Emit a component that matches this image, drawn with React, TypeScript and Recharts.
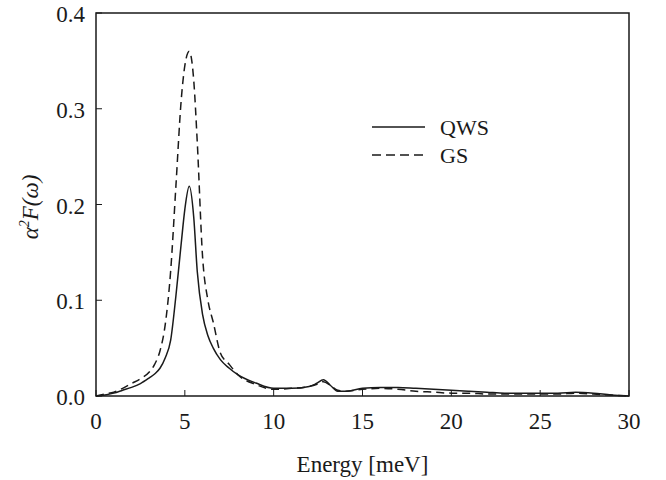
import { LineChart, Line, XAxis, YAxis, ReferenceArea } from 'recharts';

const energy = [0, 0.5, 1, 1.5, 2, 2.5, 3, 3.3, 3.6, 3.9, 4.2, 4.5, 4.8, 5.0, 5.25, 5.5, 5.7, 6.0, 6.3, 6.6, 7.0, 7.5, 8, 9, 10, 11, 12, 12.4, 12.8, 13.2, 13.6, 14, 15, 16, 17, 18, 19, 20, 21, 22, 23, 24, 25, 26, 27, 28, 29, 30];

const qws = [0, 0.001, 0.003, 0.006, 0.009, 0.013, 0.019, 0.023, 0.029, 0.04, 0.058, 0.105, 0.16, 0.195, 0.219, 0.187, 0.13, 0.085, 0.063, 0.05, 0.038, 0.029, 0.022, 0.0135, 0.008, 0.008, 0.01, 0.013, 0.017, 0.011, 0.005, 0.005, 0.008, 0.009, 0.009, 0.008, 0.007, 0.006, 0.005, 0.004, 0.003, 0.003, 0.003, 0.003, 0.004, 0.003, 0.001, 0];

const gs = [0, 0.002, 0.004, 0.008, 0.013, 0.018, 0.025, 0.033, 0.047, 0.075, 0.13, 0.22, 0.31, 0.345, 0.36, 0.33, 0.265, 0.145, 0.1, 0.077, 0.045, 0.033, 0.022, 0.012, 0.007, 0.008, 0.01, 0.012, 0.015, 0.011, 0.006, 0.005, 0.007, 0.008, 0.007, 0.005, 0.004, 0.003, 0.003, 0.002, 0.002, 0.002, 0.002, 0.002, 0.003, 0.002, 0.001, 0];

const xTicks = [0, 5, 10, 15, 20, 25, 30];
const yTicks = [0, 0.1, 0.2, 0.3, 0.4];

const seriesNames = ['QWS', 'GS'];

const data = energy.map((e, i) => ({ e, qws: qws[i], gs: gs[i] }));

const FONT = '"Liberation Serif", "Times New Roman", serif';
const INK = '#1a1a1a';
const txt = { fontFamily: FONT, fontSize: 23, fill: INK };

// ticks point into the plot, like the original figure
const XTick = (props: any) => {
  const { x, y, payload } = props;
  return (
    <g>
      <line x1={x} y1={y} x2={x} y2={y - 6} stroke={INK} strokeWidth={1} />
      <text x={x} y={y + 33} textAnchor="middle" style={txt}>
        {payload.value}
      </text>
    </g>
  );
};

const YTick = (props: any) => {
  const { x, y, payload } = props;
  return (
    <g>
      <line x1={x} y1={y} x2={x + 6} y2={y} stroke={INK} strokeWidth={1} />
      <text x={x - 11} y={y + 9} textAnchor="end" style={txt}>
        {Number(payload.value).toFixed(1)}
      </text>
    </g>
  );
};

const YLabel = () => (
  <text
    x={0}
    y={0}
    transform="translate(38, 207) rotate(-90)"
    textAnchor="middle"
    style={{ ...txt, fontStyle: 'italic' }}
  >
    α<tspan style={{ fontSize: 14 }} dy={-9}>2</tspan>
    <tspan dy={9}>F(ω)</tspan>
  </text>
);

const LegendBox = () => (
  <svg width={140} height={60} style={{ position: 'absolute', left: 370, top: 115 }}>
    <line x1={2} y1={12} x2={55} y2={12} stroke={INK} strokeWidth={1.5} />
    <text x={70} y={20} style={{ ...txt, fontSize: 22 }}>{seriesNames[0]}</text>
    <line x1={2} y1={40} x2={55} y2={40} stroke={INK} strokeWidth={1.5} strokeDasharray="9 5" />
    <text x={70} y={48} style={{ ...txt, fontSize: 22 }}>{seriesNames[1]}</text>
  </svg>
);

export default function App() {
  return (
    <div style={{ position: 'absolute', left: 0, top: 0, width: 666, height: 480, background: '#fff' }}>
      <LineChart width={666} height={480} data={data} margin={{ top: 13, right: 37, bottom: 0, left: 0 }}>
        <XAxis
          dataKey="e"
          type="number"
          domain={[0, 30]}
          ticks={xTicks}
          tick={<XTick />}
          tickLine={false}
          tickSize={0}
          tickMargin={0}
          axisLine={false}
          height={84}
          label={{
            value: 'Energy [meV]',
            position: 'insideBottom',
            offset: 8,
            style: txt,
          }}
        />
        <YAxis
          type="number"
          domain={[0, 0.4]}
          ticks={yTicks}
          tick={<YTick />}
          tickLine={false}
          tickSize={0}
          tickMargin={0}
          axisLine={false}
          width={96}
          label={<YLabel />}
        />
        <ReferenceArea x1={0} x2={30} y1={0} y2={0.4} fill="none" stroke={INK} strokeWidth={1.5} />
        <Line
          dataKey="gs"
          name={seriesNames[1]}
          type="monotone"
          stroke={INK}
          strokeWidth={1.5}
          strokeDasharray="8 5"
          dot={false}
          isAnimationActive={false}
        />
        <Line
          dataKey="qws"
          name={seriesNames[0]}
          type="monotone"
          stroke={INK}
          strokeWidth={1.5}
          dot={false}
          isAnimationActive={false}
        />
      </LineChart>
      <LegendBox />
    </div>
  );
}
